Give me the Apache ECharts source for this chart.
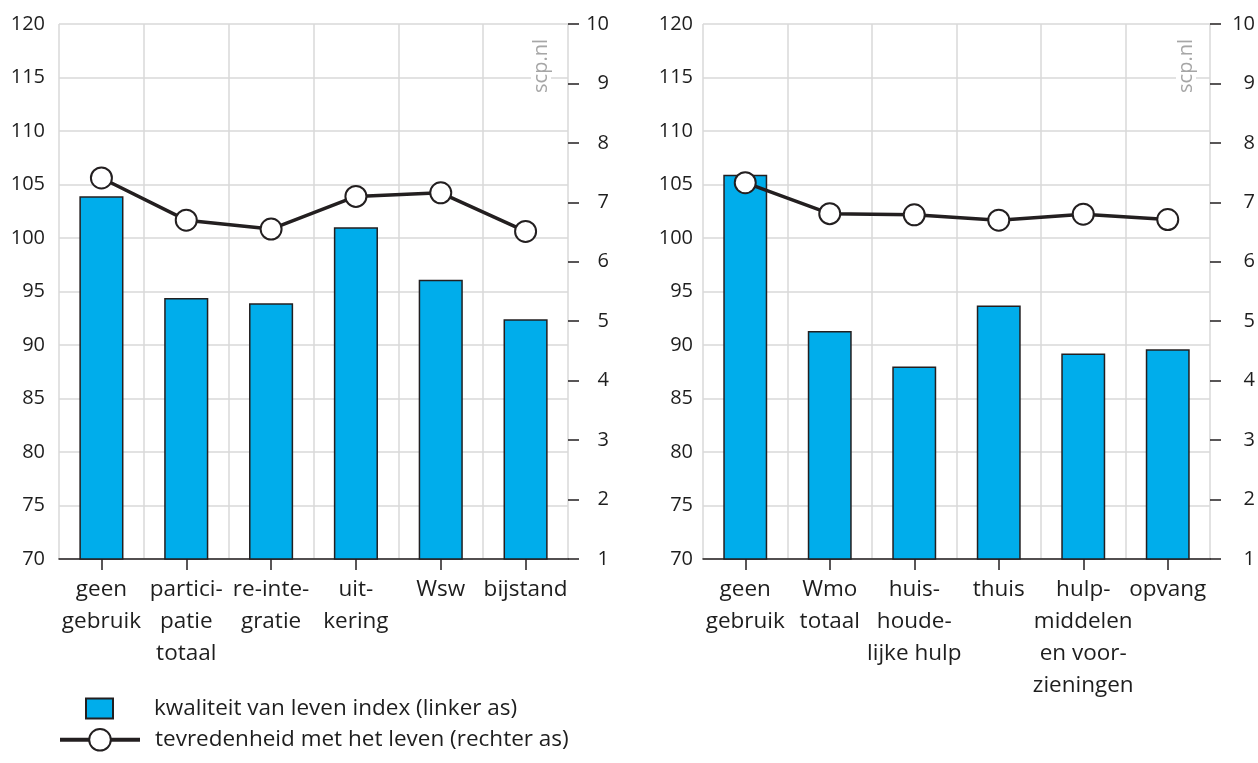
<!DOCTYPE html>
<html>
<head>
<meta charset="utf-8">
<script src="https://cdn.jsdelivr.net/npm/echarts@6/dist/echarts.min.js"></script>
<style>
html,body{margin:0;padding:0;background:#fff;}
#chart{width:1258px;height:763px;}
</style>
</head>
<body>
<div id="chart"></div>
<script>
// Categories
var catsLeft = ["geen\ngebruik", "partici-\npatie\ntotaal", "re-inte-\ngratie", "uit-\nkering", "Wsw", "bijstand"];
var catsRight = ["geen\ngebruik", "Wmo\ntotaal", "huis-\nhoude-\nlijke hulp", "thuis", "hulp-\nmiddelen\nen voor-\nzieningen", "opvang"];
// Values
var kwaliteitLeft = [103.9, 94.4, 93.9, 101.0, 96.1, 92.4];
var tevredenLeft = [7.41, 6.70, 6.55, 7.10, 7.16, 6.51];
var kwaliteitRight = [105.9, 91.3, 88.0, 93.7, 89.2, 89.6];
var tevredenRight = [7.33, 6.81, 6.79, 6.70, 6.80, 6.71];
var nameBar = "kwaliteit van leven index (linker as)";
var nameLine = "tevredenheid met het leven (rechter as)";

var FONT = "Open Sans";
var TXT = "#1e1e1e";
var GRID = "#d9d9d9";
var DARK = "#231f20";
var BLUE = "#00adeb";

function xAxisFor(idx, cats) {
  return {
    type: "category", gridIndex: idx, data: cats,
    axisLine: {show: true, lineStyle: {color: DARK, width: 1.5}},
    axisTick: {show: true, alignWithLabel: true, length: 11, lineStyle: {color: DARK, width: 1.5}},
    axisLabel: {interval: 0, fontFamily: FONT, fontSize: 22.5, lineHeight: 32, color: TXT, margin: 15},
    splitLine: {show: true, lineStyle: {color: GRID, width: 1.5}}
  };
}
function yLeft(idx, margin) {
  return {
    type: "value", gridIndex: idx, min: 70, max: 120, interval: 5, position: "left",
    axisLine: {show: false}, axisTick: {show: false},
    axisLabel: {fontFamily: FONT, fontSize: 20, color: TXT, margin: margin},
    splitLine: {show: true, lineStyle: {color: GRID, width: 1.5}}
  };
}
function yRight(idx, margin) {
  return {
    type: "value", gridIndex: idx, min: 1, max: 10, interval: 1, position: "right",
    axisLine: {show: false},
    axisTick: {show: true, length: 11, lineStyle: {color: DARK, width: 1.5}},
    axisLabel: {fontFamily: FONT, fontSize: 20, color: TXT, margin: margin, align: "right"},
    splitLine: {show: false}
  };
}
function barSeries(xi, yi, data) {
  return {
    name: nameBar, type: "bar", xAxisIndex: xi, yAxisIndex: yi, data: data, barWidth: "52%",
    itemStyle: {color: BLUE, borderColor: DARK, borderWidth: 1.5}, z: 2
  };
}
function lineSeries(xi, yi, data) {
  return {
    name: nameLine, type: "line", xAxisIndex: xi, yAxisIndex: yi, data: data,
    symbol: "circle", symbolSize: 21,
    lineStyle: {color: DARK, width: 3.5},
    itemStyle: {color: "#ffffff", borderColor: DARK, borderWidth: 2},
    z: 3
  };
}

var chart = echarts.init(document.getElementById("chart"), null, {renderer: "canvas"});
chart.setOption({
  backgroundColor: "#ffffff",
  animation: false,
  grid: [
    {left: 59, right: 690, top: 24, bottom: 204},
    {left: 703, right: 47, top: 24, bottom: 204}
  ],
  xAxis: [xAxisFor(0, catsLeft), xAxisFor(1, catsRight)],
  yAxis: [yLeft(0, 14), yRight(0, 41), yLeft(1, 10), yRight(1, 45)],
  legend: [
    {
      data: [{name: nameBar, icon: "rect"}], left: 85, top: 697, orient: "vertical", padding: 0,
      itemWidth: 27, itemHeight: 20,
      textStyle: {fontFamily: FONT, fontSize: 22.5, color: TXT, padding: [0, 0, 0, 36]}
    },
    {
      data: [{name: nameLine}], left: 58, top: 728, orient: "vertical", padding: 0,
      itemWidth: 80, itemHeight: 27,
      lineStyle: {width: 4, color: DARK},
      textStyle: {fontFamily: FONT, fontSize: 22.5, color: TXT, padding: [0, 0, 0, 10]}
    }
  ],
  graphic: [
    {type: "text", x: 541, y: 66, rotation: Math.PI / 2, z: 10,
     style: {text: "scp.nl", fontFamily: FONT, fontSize: 20, fill: "#a6a6a6", align: "center", verticalAlign: "middle", backgroundColor: "#ffffff", padding: [0, 2]}},
    {type: "text", x: 1186, y: 66, rotation: Math.PI / 2, z: 10,
     style: {text: "scp.nl", fontFamily: FONT, fontSize: 20, fill: "#a6a6a6", align: "center", verticalAlign: "middle", backgroundColor: "#ffffff", padding: [0, 2]}}
  ],
  series: [
    barSeries(0, 0, kwaliteitLeft),
    lineSeries(0, 1, tevredenLeft),
    barSeries(1, 2, kwaliteitRight),
    lineSeries(1, 3, tevredenRight)
  ]
});
</script>
</body>
</html>
